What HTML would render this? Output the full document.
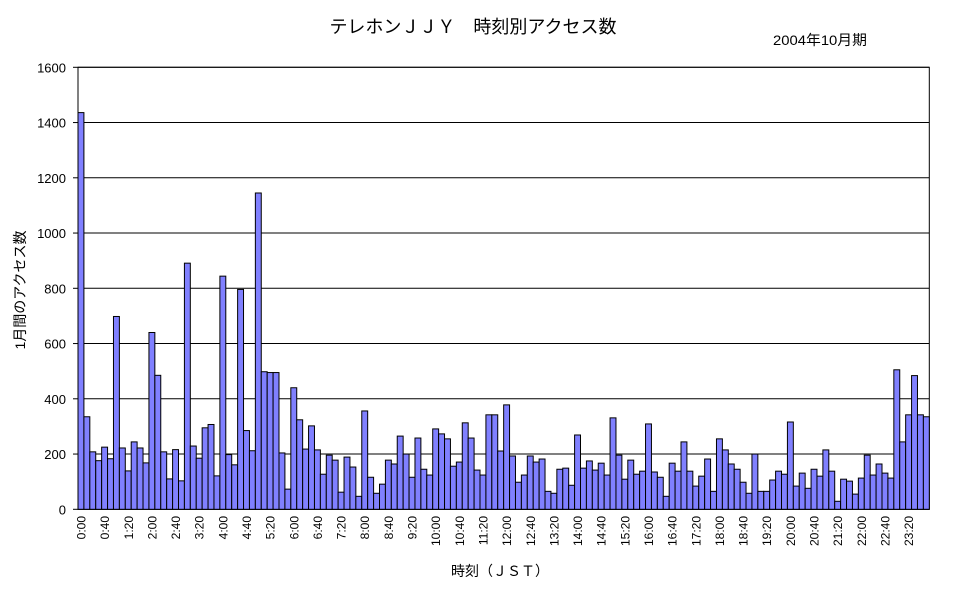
<!DOCTYPE html>
<html><head><meta charset="utf-8"><style>
html,body{margin:0;padding:0;background:#fff;}
svg{display:block;}
text{font-family:"Liberation Sans","Noto Sans CJK JP",sans-serif;fill:#000;}
</style></head><body>
<svg id="c" width="967" height="590" xmlns="http://www.w3.org/2000/svg">
<text x="473" y="33" font-size="18" text-anchor="middle" font-family="'Noto Sans CJK JP',sans-serif">テレホンＪＪＹ　時刻別アクセス数</text>
<text x="820" y="45" font-size="14" text-anchor="middle" font-family="'Noto Sans CJK JP',sans-serif" transform="translate(820 0) scale(1.06 1) translate(-820 0)">2004年10月期</text>
<text x="500" y="576" font-size="14" text-anchor="middle" font-family="'Noto Sans CJK JP',sans-serif">時刻（ＪＳＴ）</text>
<text x="0" y="0" font-size="14" text-anchor="middle" font-family="'Noto Sans CJK JP',sans-serif" transform="translate(25 290) rotate(-90)">1月間のアクセス数</text>
<g id="g"></g>
</svg>
<script>
var v=[1436,335,208,176,225,183,698,222,139,244,222,168,640,485,208,110,216,103,891,229,185,295,307,121,844,198,161,796,285,212,1145,498,495,495,204,73,
440,324,218,302,215,127,196,178,62,189,153,47,356,116,58,91,178,164,265,200,116,258,145,124,291,273,255,156,171,313,258,142,124,342,342,211,
378,193,98,124,193,171,182,65,58,145,149,87,269,149,175,142,167,124,331,196,109,178,127,138,309,135,116,47,167,138,244,138,84,120,182,
65,255,215,164,145,98,58,200,65,65,106,138,127,316,84,131,76,145,120,215,138,29,109,102,55,113,196,124,164,131,113,505,244,342,484,342,335];
var L=78,R=929.3,T=67.3,B=509.3,bw=(R-L)/144,s=(B-T)/1600,h='';
h+='<rect x="'+L+'" y="'+T+'" width="'+(R-L)+'" height="'+(B-T)+'" fill="#fff" stroke="#000" stroke-width="1"/>';
for(var i=0;i<=8;i++){var y=B-i*200*s;h+='<line x1="'+L+'" x2="'+R+'" y1="'+y+'" y2="'+y+'" stroke="#000"/>';
h+='<line x1="'+(L-5)+'" x2="'+L+'" y1="'+y+'" y2="'+y+'" stroke="#000"/>';
h+='<text x="66" y="'+(y+5)+'" font-size="13" text-anchor="end">'+(i*200)+'</text>';}
for(var i=0;i<144;i++){var x=L+i*bw,hh=v[i]*s;h+='<rect x="'+x+'" y="'+(B-hh)+'" width="'+bw+'" height="'+hh+'" fill="#8080ff" stroke="#000" stroke-width="1"/>';}
for(var i=0;i<144;i+=4){var m=i*10,t=Math.floor(m/60)+':'+('0'+m%60).slice(-2);var x=L+i*bw+bw/2+4.5;
h+='<text font-size="12" text-anchor="end" transform="translate('+x+' 516) rotate(-90)">'+t+'</text>';}
h+='<line x1="'+L+'" x2="'+L+'" y1="'+T+'" y2="'+B+'" stroke="#000"/>';
document.getElementById('g').innerHTML=h;
</script>
</body></html>
